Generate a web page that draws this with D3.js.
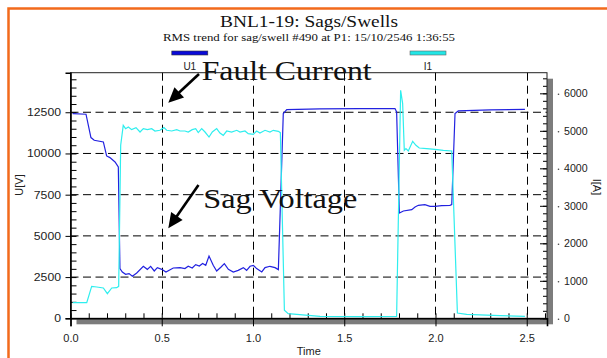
<!DOCTYPE html>
<html>
<head>
<meta charset="utf-8">
<title>BNL1-19: Sags/Swells</title>
<style>
  body { margin: 0; background: #fff; }
  svg { display: block; }
  .serif { font-family: "Liberation Serif", "Times New Roman", serif; fill: #111; }
  .sans { font-family: "Liberation Sans", Arial, sans-serif; fill: #222; }
</style>
</head>
<body>
<svg id="vis" width="607" height="358"></svg>

<script src="https://cdnjs.cloudflare.com/ajax/libs/d3/7.8.5/d3.min.js"></script>
<script>
  // U1 trace (left axis, volts)
  var uTime = [0.012, 0.085, 0.112, 0.130, 0.180, 0.198, 0.216, 0.244, 0.262, 0.271, 0.284, 0.302, 0.321, 0.339, 0.363,
    0.399, 0.421, 0.439, 0.459, 0.476, 0.500, 0.523, 0.563, 0.600, 0.627, 0.645, 0.667, 0.686, 0.706, 0.724,
    0.741, 0.759, 0.782, 0.801, 0.825, 0.843, 0.865, 0.892, 0.919, 0.947, 0.965, 0.984, 1.002, 1.020, 1.048,
    1.066, 1.093, 1.121, 1.139, 1.166, 1.185, 1.367, 1.586, 1.778, 1.787, 1.802, 1.824, 1.870, 1.888, 1.906,
    1.942, 1.970, 1.997, 2.034, 2.079, 2.089, 2.107, 2.125, 2.299, 2.490]
  var uVals = [12420, 12380, 10965, 10800, 10700, 9850, 9750, 9485, 9180, 3015, 2810, 2670, 2710, 2550, 2750,
    3155, 2970, 3155, 2870, 3075, 2970, 2810, 3050, 3075, 3015, 3155, 3050, 3255, 3175, 3320,
    3215, 3780, 3215, 2870, 3115, 3320, 2970, 2810, 2910, 3075, 2910, 3155, 3215, 3015, 2810,
    3075, 3155, 3075, 2955, 12420, 12665, 12700, 12720, 12725, 12520, 6390, 6510, 6595, 6755, 6855,
    6895, 6795, 6795, 6840, 6855, 6895, 12420, 12580, 12640, 12680]

  // I1 trace (right axis, amps)
  var iTime = [0.012, 0.089, 0.116, 0.144, 0.180, 0.202, 0.226, 0.253, 0.264, 0.275, 0.289, 0.302, 0.317, 0.335, 0.359,
    0.381, 0.399, 0.421, 0.445, 0.463, 0.490, 0.512, 0.527, 0.555, 0.582, 0.600, 0.627, 0.645, 0.667, 0.686,
    0.700, 0.719, 0.737, 0.759, 0.777, 0.801, 0.819, 0.837, 0.856, 0.883, 0.911, 0.929, 0.956, 0.974, 1.002,
    1.020, 1.038, 1.066, 1.093, 1.111, 1.139, 1.150, 1.172, 1.193, 1.367, 1.586, 1.787, 1.809, 1.820, 1.829,
    1.838, 1.851, 1.875, 1.893, 1.911, 1.952, 1.997, 2.043, 2.089, 2.120, 2.171, 2.353, 2.490]
  var iVals = [418, 418, 853, 835, 809, 658, 809, 818, 853, 4614, 5147, 5058, 5102, 5032, 5085,
    4968, 5058, 5032, 5058, 4995, 5014, 5085, 5014, 4995, 5032, 4995, 4995, 4968, 5032, 5058,
    4952, 5058, 4968, 4835, 4968, 5058, 4942, 4880, 4995, 4968, 5014, 4968, 4995, 4925, 4907,
    4995, 4942, 5014, 4968, 5014, 4987, 4950, 213, 125, 53, 45, 53, 6080, 5726, 4480,
    4526, 4462, 4720, 4614, 4542, 4526, 4507, 4480, 4462, 141, 107, 71, 53]

  var xTicks = [0, 0.5, 1.0, 1.5, 2.0, 2.5]
  var uTicks = [0, 2500, 5000, 7500, 10000, 12500]
  var iTicks = [0, 1000, 2000, 3000, 4000, 5000, 6000]

  var svg = d3.select('#vis')
  var plot = { left: 70.5, right: 547, top: 72.7, bottom: 318.3 }
  var blue = '#2222e0', cyan = '#2eeeee'

  var x = d3.scaleLinear().domain([0, 2.611]).range([plot.left, plot.right])
  var yU = d3.scaleLinear().domain([0, 14900]).range([plot.bottom, plot.top])
  var yI = d3.scaleLinear().domain([0, 6550]).range([plot.bottom, plot.top])

  // stretch text horizontally, the original picture is a bit wide
  function stretch(sel, w) {
    sel.each(function(d) {
      var len = typeof w === 'function' ? w(d, this) : w
      d3.select(this).attr('textLength', len).attr('lengthAdjust', 'spacingAndGlyphs')
    })
  }

  // orange page border
  svg.append('rect')
    .attr('x', 8.5).attr('y', 8.5).attr('width', 700).attr('height', 500)
    .attr('fill', 'none').attr('stroke', '#f26a1b').attr('stroke-width', 2.5)

  // titles
  svg.append('text').attr('class', 'serif')
    .attr('x', 309).attr('y', 27).attr('text-anchor', 'middle')
    .style('font-size', '17px').text('BNL1-19: Sags/Swells')
    .call(stretch, 178)
  svg.append('text').attr('class', 'serif')
    .attr('x', 309).attr('y', 40.5).attr('text-anchor', 'middle')
    .style('font-size', '10.5px').text('RMS trend for sag/swell #490 at P1: 15/10/2546 1:36:55')
    .call(stretch, 292)

  // legend
  var legend = [{ name: 'U1', color: '#0a0ad8', stroke: '#333', cx: x.invert(189.8) },
                { name: 'I1', color: '#22e6e6', stroke: '#666', cx: x.invert(428) }]
  var lg = svg.selectAll('g.legend').data(legend).enter().append('g').attr('class', 'legend')
  lg.append('rect')
    .attr('x', function(d) { return x(d.cx) - 18 })
    .attr('y', 51).attr('width', 36).attr('height', 4)
    .attr('fill', function(d) { return d.color })
    .attr('stroke', function(d) { return d.stroke }).attr('stroke-width', 0.6)
  lg.append('text').attr('class', 'sans')
    .attr('x', function(d) { return x(d.cx) }).attr('y', 70)
    .attr('text-anchor', 'middle').style('font-size', '10px')
    .text(function(d) { return d.name })

  // drop shadow + plot background
  var w = plot.right - plot.left, h = plot.bottom - plot.top
  svg.append('rect').attr('x', plot.left + 6).attr('y', plot.top + 6)
    .attr('width', w).attr('height', h).attr('fill', '#7c7c7c')
  svg.append('rect').attr('x', plot.left).attr('y', plot.top)
    .attr('width', w).attr('height', h).attr('fill', '#fff')

  // dashed grid
  svg.append('g').selectAll('line').data(xTicks.filter(function(d) { return d > 0 }))
    .enter().append('line')
    .attr('x1', function(d) { return Math.round(x(d)) + 0.5 }).attr('x2', function(d) { return Math.round(x(d)) + 0.5 })
    .attr('y1', plot.top).attr('y2', plot.bottom)
    .attr('stroke', '#000').attr('stroke-dasharray', '8,5')
  svg.append('g').selectAll('line').data(uTicks.filter(function(d) { return d > 0 }))
    .enter().append('line')
    .attr('x1', plot.left).attr('x2', plot.right)
    .attr('y1', function(d) { return yU(d) }).attr('y2', function(d) { return yU(d) })
    .attr('stroke', '#000').attr('stroke-dasharray', '8,4.5')

  // inner minor ticks
  svg.append('g').attr('transform', 'translate(' + plot.left + ',0)')
    .call(d3.axisRight(yU).tickValues(d3.range(0, 14900, 500)).tickSize(6).tickFormat(''))
  svg.append('g').attr('transform', 'translate(0,' + plot.bottom + ')')
    .call(d3.axisTop(x).tickValues(d3.range(0, 2.65, 0.1)).tickSize(5).tickFormat(''))
  svg.append('g').attr('transform', 'translate(' + plot.right + ',0)')
    .call(d3.axisLeft(yI).tickValues(d3.range(0, 6550, 200)).tickSize(4).tickFormat(''))
  svg.append('g').attr('transform', 'translate(' + plot.right + ',0)')
    .call(d3.axisLeft(yI).tickValues(iTicks).tickSize(7).tickFormat(''))
  svg.selectAll('.domain').remove()

  // traces
  var uLine = d3.line()
    .x(function(d, i) { return x(uTime[i]) })
    .y(function(d) { return yU(d) })
  var iLine = d3.line()
    .x(function(d, i) { return x(iTime[i]) })
    .y(function(d) { return yI(d) })
  svg.append('path').datum(uVals).attr('d', uLine)
    .attr('fill', 'none').attr('stroke', blue).attr('stroke-width', 1.2)
  svg.append('path').datum(iVals).attr('d', iLine)
    .attr('fill', 'none').attr('stroke', cyan).attr('stroke-width', 1.2)

  // frame
  svg.append('rect').attr('x', plot.left).attr('y', plot.top)
    .attr('width', w).attr('height', h)
    .attr('fill', 'none').attr('stroke', '#222').attr('stroke-width', 1)

  // left axis
  var ax = svg.append('g').attr('transform', 'translate(' + plot.left + ',0)')
    .call(d3.axisLeft(yU).tickValues(uTicks).tickSize(5).tickPadding(4.5).tickFormat(d3.format('d')))
  ax.select('.domain').attr('stroke', '#000').attr('stroke-width', 1.6)
  ax.selectAll('text').attr('class', 'sans').style('font-size', '10.5px').attr('fill', '#222')
    .call(stretch, function(d) { return String(d).length * 6.8 })

  // bottom axis
  var bx = svg.append('g').attr('transform', 'translate(0,' + plot.bottom + ')')
    .call(d3.axisBottom(x).tickValues(xTicks).tickSize(8).tickPadding(8).tickFormat(d3.format('.1f')))
  bx.select('.domain').attr('stroke', '#000').attr('stroke-width', 1.6)
  bx.selectAll('text').attr('class', 'sans').style('font-size', '11px').attr('fill', '#222')

  // right axis labels with the little dot
  var rx = svg.append('g').attr('transform', 'translate(' + plot.right + ',0)')
    .call(d3.axisRight(yI).tickValues(iTicks).tickSize(0).tickPadding(17).tickFormat(d3.format('d')))
  rx.select('.domain').remove()
  rx.selectAll('text').attr('class', 'sans').style('font-size', '10.5px').attr('fill', '#222')
    .call(stretch, function(d) { return String(d).length * 5.9 })
  rx.selectAll('.tick').append('circle').attr('cx', 11.5).attr('cy', 0.5).attr('r', 0.8).attr('fill', '#444')

  // axis titles
  svg.append('text').attr('class', 'sans')
    .attr('transform', 'translate(23,185) rotate(-90)')
    .attr('text-anchor', 'middle').style('font-size', '11px').text('U[V]')
  svg.append('text').attr('class', 'sans')
    .attr('transform', 'translate(592.5,187) rotate(90)')
    .attr('text-anchor', 'middle').style('font-size', '11px').text('I[A]')
  svg.append('text').attr('class', 'sans')
    .attr('x', (plot.left + plot.right) / 2).attr('y', 355)
    .attr('text-anchor', 'middle').style('font-size', '11px').text('Time')

  // annotations with arrows
  var notes = [
    { text: 'Fault Current', tx: 201.7, ty: 80, len: 170, from: [199, 74], to: [168.3, 102.7] },
    { text: 'Sag Voltage', tx: 203.3, ty: 208.3, len: 154, from: [198.5, 185], to: [168.3, 228.3] }
  ]
  notes.forEach(function(n) {
    var dx = n.to[0] - n.from[0], dy = n.to[1] - n.from[1]
    var L = Math.sqrt(dx * dx + dy * dy), ux = dx / L, uy = dy / L
    var hl = 15, hw = 7
    var bx0 = n.to[0] - ux * hl, by0 = n.to[1] - uy * hl
    svg.append('line')
      .attr('x1', n.from[0]).attr('y1', n.from[1]).attr('x2', bx0 + ux * 2).attr('y2', by0 + uy * 2)
      .attr('stroke', '#000').attr('stroke-width', 2.6)
    svg.append('path')
      .attr('d', 'M' + n.to[0] + ',' + n.to[1] +
        'L' + (bx0 - uy * hw) + ',' + (by0 + ux * hw) +
        'L' + (bx0 + uy * hw) + ',' + (by0 - ux * hw) + 'Z')
      .attr('fill', '#000')
    svg.append('text').attr('class', 'serif')
      .attr('x', n.tx).attr('y', n.ty)
      .style('font-size', '28px').attr('fill', '#000').text(n.text)
      .call(stretch, n.len)
  })
</script>
</body>
</html>
